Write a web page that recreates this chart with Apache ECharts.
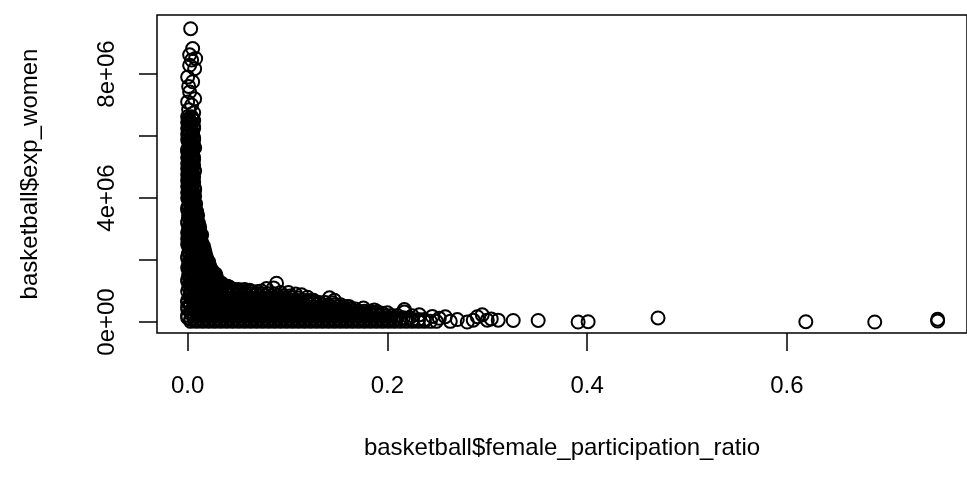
<!DOCTYPE html>
<html>
<head>
<meta charset="utf-8">
<script src="https://cdn.jsdelivr.net/npm/echarts@6/dist/echarts.min.js"></script>
<style>
  html, body { margin: 0; padding: 0; background: #fff; }
  #main { width: 967px; height: 487px; }
</style>
</head>
<body>
<div id="main"></div>
<script>
// axis ticks and labels
const xTickValues = [0, 0.2, 0.4, 0.6];
const xTickLabels = ['0.0', '0.2', '0.4', '0.6'];
const yTickValues = [0, 2e6, 4e6, 6e6, 8e6];
const yLabelValues = [0, 4e6, 8e6];
const yLabelTexts = ['0e+00', '4e+06', '8e+06'];

// sparse points at the top of the spike
const peakRatio = [0.003, 0.005, 0.002, 0.008, 0.004, 0.002, 0.007, 0.000, 0.005, 0.001, 0.002, 0.007, 0.000, 0.004, 0.001, 0.006];
const peakExp = [9.46e6, 8.82e6, 8.62e6, 8.50e6, 8.45e6, 8.28e6, 8.17e6, 7.90e6, 7.75e6, 7.60e6, 7.42e6, 7.20e6, 7.10e6, 7.00e6, 6.85e6, 6.75e6];

// dense spike near ratio 0 (one row of ratios per expense level)
const columnExp = [6.62e6, 6.50e6, 6.38e6, 6.25e6, 6.12e6, 6.00e6, 5.88e6, 5.75e6, 5.62e6, 5.50e6,
  5.38e6, 5.25e6, 5.12e6, 5.00e6, 4.88e6, 4.75e6, 4.62e6, 4.50e6, 4.38e6, 4.25e6,
  4.12e6, 4.00e6, 3.88e6, 3.75e6, 3.62e6, 3.50e6, 3.38e6, 3.25e6, 3.12e6, 3.00e6,
  2.88e6, 2.75e6, 2.62e6, 2.50e6, 2.38e6, 2.25e6, 2.12e6, 2.00e6, 1.88e6, 1.75e6,
  1.62e6, 1.50e6, 1.38e6, 1.25e6];
const columnRatio = [
  [0.000, 0.004], [0.002, 0.006], [0.001, 0.004], [0.000, 0.003, 0.006], [0.002, 0.005],
  [0.001, 0.004], [0.000, 0.003, 0.006], [0.002, 0.005], [0.001, 0.004, 0.007], [0.000, 0.003],
  [0.002, 0.005], [0.001, 0.004, 0.006], [0.000, 0.003], [0.002, 0.005], [0.001, 0.004, 0.007],
  [0.000, 0.003], [0.002, 0.005], [0.001, 0.004, 0.006], [0.000, 0.003], [0.002, 0.005, 0.007],
  [0.001, 0.004], [0.000, 0.003, 0.006], [0.002, 0.005], [0.001, 0.004, 0.007], [0.000, 0.003, 0.008],
  [0.002, 0.005, 0.009], [0.001, 0.004, 0.008], [0.000, 0.003, 0.007, 0.010], [0.002, 0.006, 0.010], [0.001, 0.004, 0.008, 0.011],
  [0.000, 0.003, 0.007, 0.012], [0.002, 0.006, 0.010, 0.013], [0.001, 0.004, 0.008, 0.013], [0.000, 0.003, 0.007, 0.011, 0.014], [0.002, 0.006, 0.010, 0.015],
  [0.001, 0.005, 0.009, 0.013, 0.016], [0.000, 0.004, 0.008, 0.012, 0.017], [0.002, 0.006, 0.010, 0.014, 0.018],
  [0.001, 0.005, 0.009, 0.013, 0.017, 0.020], [0.000, 0.004, 0.008, 0.012, 0.016, 0.021],
  [0.002, 0.006, 0.010, 0.014, 0.018, 0.022], [0.001, 0.005, 0.009, 0.013, 0.017, 0.021, 0.025, 0.028],
  [0.000, 0.004, 0.008, 0.012, 0.016, 0.020, 0.024], [0.002, 0.006, 0.010, 0.014, 0.018, 0.022, 0.026, 0.030]
];
// in-between levels of the spike
const columnExp2 = [6.56e6, 6.44e6, 6.31e6, 6.18e6, 6.06e6, 5.94e6, 5.81e6, 5.68e6, 5.56e6, 5.44e6,
  5.31e6, 5.18e6, 5.06e6, 4.94e6, 4.81e6, 4.68e6, 4.56e6, 4.44e6, 4.31e6, 4.18e6,
  4.06e6, 3.94e6, 3.81e6, 3.68e6, 3.56e6, 3.44e6, 3.31e6, 3.18e6, 3.06e6,
  2.94e6, 2.81e6, 2.68e6, 2.56e6, 2.44e6, 2.31e6, 2.18e6, 2.06e6, 1.94e6, 1.81e6,
  1.68e6, 1.56e6, 1.44e6, 1.31e6, 1.19e6];
const columnRatio2 = [
  [0.001, 0.005], [0.003, 0.000], [0.002, 0.006], [0.004, 0.001], [0.000, 0.005],
  [0.003, 0.006], [0.001, 0.004], [0.002, 0.006], [0.000, 0.005], [0.003, 0.001],
  [0.004, 0.000, 0.006], [0.002, 0.005], [0.001, 0.006], [0.003, 0.000], [0.002, 0.005],
  [0.004, 0.001, 0.006], [0.000, 0.003], [0.002, 0.005], [0.001, 0.004, 0.007], [0.003, 0.000],
  [0.002, 0.005, 0.007], [0.001, 0.004], [0.003, 0.006, 0.008], [0.000, 0.004, 0.007], [0.002, 0.006, 0.009],
  [0.001, 0.004, 0.007, 0.010], [0.003, 0.006, 0.009], [0.000, 0.005, 0.009, 0.011], [0.002, 0.006, 0.010, 0.012],
  [0.001, 0.005, 0.009, 0.012], [0.002, 0.006, 0.010, 0.014], [0.000, 0.004, 0.009, 0.013], [0.002, 0.006, 0.010, 0.014],
  [0.001, 0.005, 0.009, 0.013, 0.016], [0.003, 0.007, 0.011, 0.015, 0.017], [0.002, 0.006, 0.010, 0.014, 0.018],
  [0.000, 0.004, 0.008, 0.012, 0.016, 0.019], [0.003, 0.007, 0.011, 0.015, 0.019, 0.021], [0.002, 0.006, 0.010, 0.014, 0.018, 0.022],
  [0.001, 0.005, 0.009, 0.013, 0.017, 0.021, 0.024], [0.003, 0.007, 0.011, 0.015, 0.019, 0.023, 0.026],
  [0.002, 0.006, 0.010, 0.014, 0.018, 0.022, 0.026, 0.029], [0.000, 0.004, 0.008, 0.012, 0.016, 0.020, 0.024, 0.028],
  [0.003, 0.007, 0.011, 0.015, 0.019, 0.023, 0.027, 0.031, 0.035]
];

// dense band along the bottom
const bandExp = [1.12e6, 0.98e6, 0.84e6, 0.70e6, 0.56e6, 0.42e6, 0.28e6, 0.14e6, 0.02e6];
const bandRatio = [
  [0.001, 0.005, 0.009, 0.013, 0.017, 0.021, 0.025, 0.029, 0.034, 0.038, 0.042],
  [0.000, 0.004, 0.009, 0.014, 0.019, 0.024, 0.029, 0.034, 0.040, 0.046, 0.052, 0.058, 0.064, 0.070],
  [0.002, 0.007, 0.012, 0.018, 0.024, 0.030, 0.036, 0.042, 0.048, 0.054, 0.060, 0.066, 0.072, 0.078, 0.084, 0.090, 0.096, 0.102],
  [0.000, 0.006, 0.012, 0.018, 0.024, 0.030, 0.036, 0.042, 0.048, 0.054, 0.060, 0.066, 0.072, 0.078, 0.084, 0.090, 0.096, 0.102, 0.108, 0.114, 0.120, 0.126],
  [0.003, 0.009, 0.015, 0.021, 0.027, 0.033, 0.039, 0.045, 0.051, 0.057, 0.063, 0.069, 0.075, 0.081, 0.087, 0.093, 0.099, 0.105, 0.111, 0.117, 0.123, 0.129, 0.135, 0.141, 0.147, 0.153],
  [0.000, 0.006, 0.012, 0.018, 0.024, 0.030, 0.036, 0.042, 0.048, 0.054, 0.060, 0.066, 0.072, 0.078, 0.084, 0.090, 0.096, 0.102, 0.108, 0.114, 0.120, 0.126, 0.132, 0.138, 0.144, 0.150, 0.156, 0.162, 0.168],
  [0.003, 0.009, 0.015, 0.021, 0.027, 0.033, 0.039, 0.045, 0.051, 0.057, 0.063, 0.069, 0.075, 0.081, 0.087, 0.093, 0.099, 0.105, 0.111, 0.117, 0.123, 0.129, 0.135, 0.141, 0.147, 0.153, 0.159, 0.165, 0.171, 0.177, 0.183, 0.189, 0.195],
  [0.000, 0.006, 0.012, 0.018, 0.024, 0.030, 0.036, 0.042, 0.048, 0.054, 0.060, 0.066, 0.072, 0.078, 0.084, 0.090, 0.096, 0.102, 0.108, 0.114, 0.120, 0.126, 0.132, 0.138, 0.144, 0.150, 0.156, 0.162, 0.168, 0.174, 0.180, 0.186, 0.192, 0.198, 0.204, 0.210, 0.216, 0.222],
  [0.003, 0.009, 0.015, 0.021, 0.027, 0.033, 0.039, 0.045, 0.051, 0.057, 0.063, 0.069, 0.075, 0.081, 0.087, 0.093, 0.099, 0.105, 0.111, 0.117, 0.123, 0.129, 0.135, 0.141, 0.147, 0.153, 0.159, 0.165, 0.171, 0.177, 0.183, 0.189, 0.195, 0.201, 0.207, 0.213, 0.219, 0.225, 0.231, 0.237, 0.243, 0.249]
];
// in-between levels of the band
const bandExp2 = [1.05e6, 0.91e6, 0.77e6, 0.63e6, 0.49e6, 0.35e6, 0.21e6, 0.08e6];
const bandRatio2 = [
  [0.003, 0.009, 0.015, 0.021, 0.027, 0.033, 0.039, 0.045, 0.051, 0.057],
  [0.003, 0.009, 0.015, 0.021, 0.027, 0.033, 0.039, 0.045, 0.051, 0.057, 0.063, 0.069, 0.075, 0.081, 0.087],
  [0.003, 0.009, 0.015, 0.021, 0.027, 0.033, 0.039, 0.045, 0.051, 0.057, 0.063, 0.069, 0.075, 0.081, 0.087, 0.093, 0.099, 0.105, 0.111],
  [0.000, 0.006, 0.012, 0.018, 0.024, 0.030, 0.036, 0.042, 0.048, 0.054, 0.060, 0.066, 0.072, 0.078, 0.084, 0.090, 0.096, 0.102, 0.108, 0.114, 0.120, 0.126, 0.132, 0.138],
  [0.000, 0.006, 0.012, 0.018, 0.024, 0.030, 0.036, 0.042, 0.048, 0.054, 0.060, 0.066, 0.072, 0.078, 0.084, 0.090, 0.096, 0.102, 0.108, 0.114, 0.120, 0.126, 0.132, 0.138, 0.144, 0.150, 0.156, 0.162],
  [0.003, 0.009, 0.015, 0.021, 0.027, 0.033, 0.039, 0.045, 0.051, 0.057, 0.063, 0.069, 0.075, 0.081, 0.087, 0.093, 0.099, 0.105, 0.111, 0.117, 0.123, 0.129, 0.135, 0.141, 0.147, 0.153, 0.159, 0.165, 0.171, 0.177, 0.183],
  [0.000, 0.006, 0.012, 0.018, 0.024, 0.030, 0.036, 0.042, 0.048, 0.054, 0.060, 0.066, 0.072, 0.078, 0.084, 0.090, 0.096, 0.102, 0.108, 0.114, 0.120, 0.126, 0.132, 0.138, 0.144, 0.150, 0.156, 0.162, 0.168, 0.174, 0.180, 0.186, 0.192, 0.198, 0.204, 0.210],
  [0.003, 0.009, 0.015, 0.021, 0.027, 0.033, 0.039, 0.045, 0.051, 0.057, 0.063, 0.069, 0.075, 0.081, 0.087, 0.093, 0.099, 0.105, 0.111, 0.117, 0.123, 0.129, 0.135, 0.141, 0.147, 0.153, 0.159, 0.165, 0.171, 0.177, 0.183, 0.189, 0.195, 0.201, 0.207, 0.213, 0.219, 0.225, 0.231, 0.237]
];

// single points sticking out above the band
const edgeRatio = [0.026, 0.028, 0.034, 0.040, 0.047, 0.053, 0.062, 0.074, 0.079, 0.089, 0.086, 0.093,
  0.101, 0.108, 0.114, 0.120, 0.126, 0.142, 0.147, 0.145, 0.160, 0.176, 0.187, 0.190, 0.200, 0.217,
  0.217, 0.232, 0.225, 0.245, 0.252, 0.258, 0.263, 0.270, 0.280, 0.286, 0.290, 0.295, 0.300, 0.304, 0.311];
const edgeExp = [1.45e6, 1.55e6, 1.25e6, 1.15e6, 1.05e6, 1.00e6, 1.02e6, 1.00e6, 1.08e6, 1.25e6, 1.10e6, 0.95e6,
  0.95e6, 0.90e6, 0.88e6, 0.80e6, 0.68e6, 0.78e6, 0.70e6, 0.62e6, 0.50e6, 0.45e6, 0.39e6, 0.33e6, 0.30e6, 0.40e6,
  0.32e6, 0.23e6, 0.20e6, 0.18e6, 0.12e6, 0.17e6, 0.02e6, 0.08e6, 0.00e6, 0.06e6, 0.17e6, 0.23e6, 0.06e6, 0.10e6, 0.06e6];

// far right tail
const tailRatio = [0.326, 0.351, 0.391, 0.401, 0.471, 0.619, 0.688, 0.751, 0.751];
const tailExp = [0.05e6, 0.05e6, 0.00e6, 0.01e6, 0.13e6, 0.01e6, 0.00e6, 0.09e6, 0.03e6];

// put all pairs together for the scatter
let points = [];
peakRatio.forEach((r, i) => points.push([r, peakExp[i]]));
columnExp.forEach((e, i) => columnRatio[i].forEach(r => points.push([r, e])));
columnExp2.forEach((e, i) => columnRatio2[i].forEach(r => points.push([r, e])));
bandExp.forEach((e, i) => bandRatio[i].forEach(r => points.push([r, e])));
bandExp2.forEach((e, i) => bandRatio2[i].forEach(r => points.push([r, e])));
edgeRatio.forEach((r, i) => points.push([r, edgeExp[i]]));
tailRatio.forEach((r, i) => points.push([r, tailExp[i]]));

const font = "'Liberation Sans', Arial, Helvetica, sans-serif";

let myChart = echarts.init(document.getElementById('main'));
myChart.setOption({
  animation: false,
  backgroundColor: '#fff',
  grid: {
    left: 157,
    top: 15,
    width: 818,
    height: 318,
    show: true,
    borderColor: '#000',
    borderWidth: 1.5,
    backgroundColor: 'transparent'
  },
  xAxis: {
    type: 'value',
    min: -0.0307,
    max: 0.7804,
    name: 'basketball$female_participation_ratio',
    nameLocation: 'middle',
    nameGap: 103,
    nameTextStyle: { color: '#000', fontSize: 24, fontFamily: font },
    axisLine: { show: false, onZero: false },
    splitLine: { show: false },
    axisTick: {
      show: true,
      length: 18,
      customValues: xTickValues,
      lineStyle: { color: '#000', width: 1.5 }
    },
    axisLabel: {
      customValues: xTickValues,
      margin: 41,
      color: '#000',
      fontSize: 24,
      fontFamily: font,
      formatter: v => xTickLabels[xTickValues.indexOf(v)]
    }
  },
  yAxis: {
    type: 'value',
    min: -0.355e6,
    max: 9.903e6,
    name: 'basketball$exp_women',
    nameLocation: 'middle',
    nameGap: 115,
    nameTextStyle: { color: '#000', fontSize: 24, fontFamily: font },
    axisLine: { show: false, onZero: false },
    splitLine: { show: false },
    axisTick: {
      show: true,
      length: 18,
      customValues: yTickValues,
      lineStyle: { color: '#000', width: 1.5 }
    },
    axisLabel: {
      customValues: yLabelValues,
      rotate: 90,
      margin: 38,
      color: '#000',
      fontSize: 24,
      fontFamily: font,
      formatter: v => yLabelTexts[yLabelValues.indexOf(v)]
    }
  },
  series: [
    {
      type: 'scatter',
      symbol: 'circle',
      symbolSize: 13,
      itemStyle: {
        color: 'rgba(0,0,0,0)',
        borderColor: '#000',
        borderWidth: 2,
        opacity: 1
      },
      emphasis: { disabled: true },
      data: points
    }
  ]
});
</script>
</body>
</html>
